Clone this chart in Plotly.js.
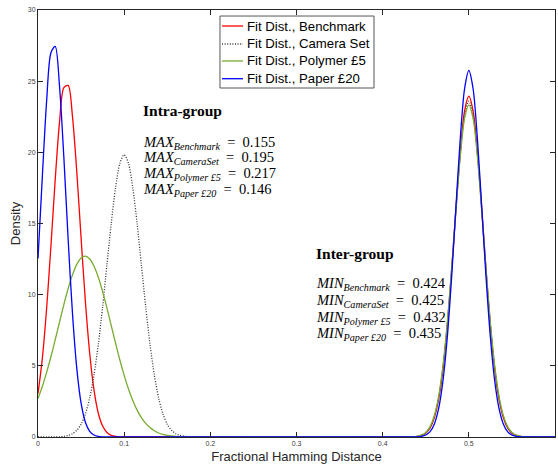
<!DOCTYPE html>
<html>
<head>
<meta charset="utf-8">
<script src="https://cdn.plot.ly/plotly-3.0.1.min.js"></script>
<style>html,body{margin:0;padding:0;background:#fff;}#chart{width:558px;height:464px;}</style>
</head>
<body>
<div id="chart"></div>
<script>
// Sampling grid (fractional Hamming distance) for the intra-group curves
const xLeft = [0,0.005,0.01,0.015,0.02,0.025,0.03,0.035,0.04,0.045,0.05,0.055,0.06,0.065,0.07,0.075,0.08,0.085,0.09,0.095,0.1,0.105,0.11,0.115,0.12,0.125,0.13,0.135,0.14,0.145,0.15,0.155,0.16,0.165,0.17,0.175,0.18,0.185,0.19,0.195,0.2];
// Sampling grid for the inter-group curves
const xRight = [0.43,0.435,0.44,0.445,0.45,0.455,0.46,0.465,0.47,0.475,0.48,0.485,0.49,0.495,0.5,0.505,0.51,0.515,0.52,0.525,0.53,0.535,0.54,0.545,0.55,0.555,0.56,0.565,0.57];
const xEnd = [0.6];

const seriesNames = ['Fit Dist., Benchmark','Fit Dist., Camera Set','Fit Dist., Polymer £5','Fit Dist., Paper £20'];

// Density values
const benchmarkLeft = [3.05,5.51,9.03,13.43,18.10,22.14,24.55,24.70,22.53,18.64,13.99,9.52,5.88,3.29,1.67,0.77,0.32,0.12,0.04,0.01,0,0,0,0,0,0,0,0,0,0,0,0,0,0,0,0,0,0,0,0,0];
const cameraLeft = [0,0,0,0,0.01,0.02,0.05,0.11,0.23,0.47,0.90,1.62,2.74,4.36,6.51,9.15,12.09,15.01,17.52,19.22,19.83,19.22,17.52,15.01,12.09,9.15,6.51,4.36,2.74,1.62,0.90,0.47,0.23,0.11,0.05,0.02,0.01,0,0,0,0];
const polymerLeft = [2.71,3.55,4.54,5.64,6.84,8.08,9.30,10.43,11.39,12.13,12.58,12.71,12.51,12.00,11.22,10.21,9.06,7.83,6.60,5.41,4.33,3.37,2.56,1.89,1.36,0.96,0.66,0.44,0.28,0.18,0.11,0.07,0.04,0.02,0.01,0.01,0,0,0,0,0];
const paperLeft = [12.54,18.26,23.59,27.00,27.45,24.63,19.65,13.87,8.69,4.82,2.38,1.04,0.40,0.14,0.04,0.01,0,0,0,0,0,0,0,0,0,0,0,0,0,0,0,0,0,0,0,0,0,0,0,0,0];

const benchmarkRight = [0,0.01,0.04,0.11,0.27,0.63,1.36,2.67,4.77,7.81,11.69,16.00,20.02,22.90,23.95,22.90,20.02,16.00,11.69,7.81,4.77,2.67,1.36,0.63,0.27,0.11,0.04,0.01,0];
const cameraRight = [0,0.01,0.04,0.12,0.30,0.68,1.43,2.76,4.88,7.90,11.72,15.92,19.81,22.59,23.60,22.59,19.81,15.92,11.72,7.90,4.88,2.76,1.43,0.68,0.30,0.12,0.04,0.01,0];
const polymerRight = [0.01,0.02,0.05,0.13,0.32,0.73,1.51,2.87,5.01,8.02,11.78,15.89,19.67,22.36,23.34,22.36,19.67,15.89,11.78,8.02,5.01,2.87,1.51,0.73,0.32,0.13,0.05,0.02,0.01];
const paperRight = [0,0,0.01,0.05,0.14,0.38,0.92,2.01,3.96,7.01,11.20,16.12,20.91,24.45,25.75,24.45,20.91,16.12,11.20,7.01,3.96,2.01,0.92,0.38,0.14,0.05,0.01,0,0];
const yEnd = [0];

const xTicks = [0,0.1,0.2,0.3,0.4,0.5,0.6];
const yTicks = [0,5,10,15,20,25,30];

const maxLabels = ['Benchmark','CameraSet','Polymer £5','Paper £20'];
const maxValues = ['0.155','0.195','0.217','0.146'];
const minLabels = ['Benchmark','CameraSet','Polymer £5','Paper £20'];
const minValues = ['0.424','0.425','0.432','0.435'];

const colors = ['#ff0000','#333333','#77ac30','#0000ff'];
const dashes = ['solid','1px,1.6px','solid','solid'];
const lefts = [benchmarkLeft, cameraLeft, polymerLeft, paperLeft];
const rights = [benchmarkRight, cameraRight, polymerRight, paperRight];

const xAll = xLeft.concat(xRight, xEnd);
const traces = seriesNames.map((n,i)=>({
  type:'scatter', mode:'lines', name:n, showlegend:false,
  x:xAll, y:lefts[i].concat(rights[i], yEnd),
  line:{color:colors[i], width:1.3, dash:dashes[i], shape:'spline', smoothing:0.8},
  hoverinfo:'skip'
}));

const serif = 'Liberation Serif, Times New Roman, serif';
const sans = 'Liberation Sans, Arial, sans-serif';
const ann = [];
ann.push({x:0.1196, y:22.94, xref:'x', yref:'y', xanchor:'left', yanchor:'middle', showarrow:false,
  text:'<b>Intra-group</b>', font:{family:serif, size:15.5, color:'#000'}});
const maxY = [20.69,19.57,18.45,17.32];
maxLabels.forEach((l,i)=>ann.push({x:0.1196, y:maxY[i], xref:'x', yref:'y', xanchor:'left', yanchor:'middle', showarrow:false,
  text:'<i>MAX</i><sub><i>'+l+'</i></sub>&nbsp; =&nbsp; '+maxValues[i], font:{family:serif, size:14.5, color:'#000'}}));
ann.push({x:0.320, y:12.90, xref:'x', yref:'y', xanchor:'left', yanchor:'middle', showarrow:false,
  text:'<b>Inter-group</b>', font:{family:serif, size:15.5, color:'#000'}});
const minY = [10.77,9.55,8.38,7.26];
minLabels.forEach((l,i)=>ann.push({x:0.320, y:minY[i], xref:'x', yref:'y', xanchor:'left', yanchor:'middle', showarrow:false,
  text:'<i>MIN</i><sub><i>'+l+'</i></sub>&nbsp; =&nbsp; '+minValues[i], font:{family:serif, size:14.5, color:'#000'}}));

// Legend box drawn in paper coordinates
const shapes = [{type:'rect', xref:'paper', yref:'paper', x0:0.3520, x1:0.6499, y0:0.8173, y1:0.9859,
  line:{color:'#555555', width:1}, fillcolor:'#ffffff', layer:'above'}];
const rowY = [0.9625,0.9204,0.8806,0.8391];
seriesNames.forEach((n,i)=>{
  shapes.push({type:'line', xref:'paper', yref:'paper', x0:0.3559, x1:0.3965, y0:rowY[i], y1:rowY[i],
    line:{color:colors[i], width:1.3, dash:dashes[i]}, layer:'above'});
  ann.push({x:0.4004, y:rowY[i], xref:'paper', yref:'paper', xanchor:'left', yanchor:'middle', showarrow:false,
    text:n, font:{family:sans, size:13.2, color:'#000'}});
});

const axisCommon = {
  showline:true, linecolor:'#262626', linewidth:1, mirror:'ticks',
  ticks:'inside', ticklen:5, tickwidth:1, tickcolor:'#262626',
  showgrid:false, zeroline:false,
  tickfont:{family:sans, size:7, color:'#404040'}
};

const layout = {
  width:558, height:464,
  margin:{l:38, r:3, t:10, b:27},
  paper_bgcolor:'#fff', plot_bgcolor:'#fff',
  showlegend:false,
  xaxis:Object.assign({}, axisCommon, {range:[0,0.6], tickvals:xTicks, ticktext:xTicks.map(String),
    title:{text:'Fractional Hamming Distance', font:{family:sans, size:13, color:'#262626'}, standoff:6}}),
  yaxis:Object.assign({}, axisCommon, {range:[0,30], tickvals:yTicks, ticktext:yTicks.map(String),
    title:{text:'Density', font:{family:sans, size:13, color:'#262626'}, standoff:4}}),
  annotations:ann,
  shapes:shapes,
  hovermode:false
};

Plotly.newPlot('chart', traces, layout, {displayModeBar:false, staticPlot:true});
</script>
</body>
</html>
